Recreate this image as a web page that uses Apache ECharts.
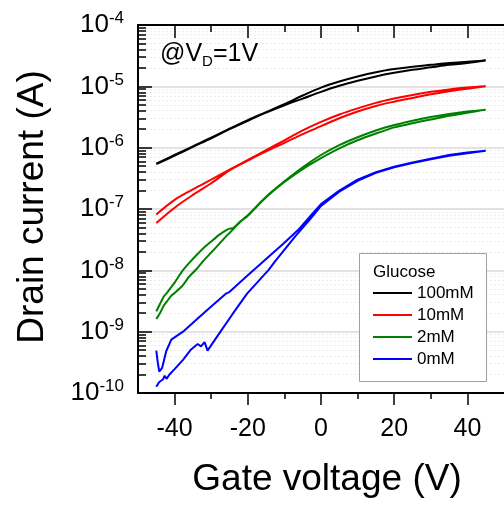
<!DOCTYPE html>
<html lang="en">
<head>
    <meta charset="UTF-8">
    <title>Drain current vs gate voltage</title>
    <script src="https://cdn.jsdelivr.net/npm/echarts@6/dist/echarts.min.js"></script>
    <style>
        html, body { margin: 0; padding: 0; background: #fff; }
        #main { width: 504px; height: 508px; }
    </style>
</head>
<body>
<div id="main"></div>
<script type="text/javascript">
    // gate voltage points (V): 5 V steps for the smooth sweeps, finer grid for 2 mM
    var vCoarse = [-45, -40, -35, -30, -25, -20, -15, -10, -5, 0, 5, 10, 15, 20, 25, 30, 35, 40, 45];
    var vGate = [-45, -44, -43, -42, -41, -40, -38, -36, -34, -32, -30, -28, -26, -25, -24, -22, -20,
                 -15, -10, -5, 0, 5, 10, 15, 20, 25, 30, 35, 40, 45];

    // drain current (A), two sweep branches per concentration
    var i100a = [5.50e-7, 7.59e-7, 1.05e-6, 1.45e-6, 2.04e-6, 2.82e-6, 3.80e-6, 5.13e-6, 7.08e-6, 9.55e-6,
                 1.20e-5, 1.45e-5, 1.70e-5, 1.91e-5, 2.09e-5, 2.24e-5, 2.40e-5, 2.51e-5, 2.63e-5];
    var i100b = [5.40e-7, 7.41e-7, 1.03e-6, 1.42e-6, 2.00e-6, 2.75e-6, 3.72e-6, 4.90e-6, 6.31e-6, 8.13e-6,
                 1.02e-5, 1.23e-5, 1.45e-5, 1.66e-5, 1.86e-5, 2.04e-5, 2.24e-5, 2.40e-5, 2.57e-5];

    var i10a = [8.13e-8, 1.41e-7, 2.09e-7, 3.02e-7, 4.37e-7, 6.31e-7, 9.12e-7, 1.32e-6, 1.91e-6, 2.63e-6,
                3.47e-6, 4.37e-6, 5.37e-6, 6.31e-6, 7.24e-6, 8.13e-6, 8.91e-6, 9.55e-6, 1.00e-5];
    var i10b = [5.89e-8, 1.05e-7, 1.70e-7, 2.63e-7, 4.27e-7, 6.17e-7, 8.71e-7, 1.20e-6, 1.66e-6, 2.24e-6,
                3.02e-6, 3.89e-6, 4.79e-6, 5.62e-6, 6.46e-6, 7.41e-6, 8.32e-6, 9.12e-6, 9.77e-6];

    var i2a = [2.14e-9, 2.82e-9, 3.72e-9, 4.37e-9, 5.25e-9, 6.31e-9, 9.55e-9, 1.32e-8, 1.78e-8, 2.34e-8,
               2.95e-8, 3.72e-8, 4.47e-8, 4.79e-8, 4.90e-8, 6.31e-8, 7.94e-8, 1.58e-7, 2.82e-7, 4.79e-7,
               7.59e-7, 1.10e-6, 1.48e-6, 1.91e-6, 2.34e-6, 2.75e-6, 3.16e-6, 3.55e-6, 3.89e-6, 4.17e-6];
    var i2b = [1.62e-9, 2.00e-9, 2.63e-9, 3.16e-9, 3.80e-9, 4.27e-9, 5.50e-9, 7.94e-9, 1.05e-8, 1.45e-8,
               1.95e-8, 2.63e-8, 3.55e-8, 4.07e-8, 4.68e-8, 6.17e-8, 7.76e-8, 1.55e-7, 2.75e-7, 4.47e-7,
               6.76e-7, 9.77e-7, 1.32e-6, 1.70e-6, 2.14e-6, 2.51e-6, 2.88e-6, 3.31e-6, 3.72e-6, 4.07e-6];

    // 0 mM is noisy at low current, so it keeps its own voltage points
    var vBlueA = [-45, -44.6, -44.2, -43.4, -42.3, -40.9, -37.7, -34, -30, -26, -25.2, -20, -16, -10, -6.2,
                  -3, 0, 5, 10, 15, 20, 25, 30, 35, 40, 45];
    var i0a = [4.90e-10, 3.16e-10, 2.24e-10, 2.57e-10, 4.79e-10, 7.41e-10, 1.00e-9, 1.58e-9, 2.57e-9, 4.17e-9,
               4.37e-9, 8.32e-9, 1.35e-8, 2.82e-8, 4.57e-8, 7.59e-8, 1.20e-7, 2.00e-7, 3.02e-7, 3.98e-7,
               4.90e-7, 5.75e-7, 6.61e-7, 7.59e-7, 8.32e-7, 8.91e-7];
    var vBlueB = [-45, -44.6, -44.2, -43.6, -43.2, -42.7, -42.2, -41.4, -40, -37.7, -35.5, -33.7, -32.8, -32.3,
                  -31.8, -31, -27, -24, -20.6, -20.2, -14.3, -12.5, -7.1, -3, 0, 5, 10, 15, 20, 25, 30, 35, 40, 45];
    var i0b = [1.26e-10, 1.58e-10, 1.51e-10, 1.74e-10, 1.66e-10, 1.91e-10, 1.70e-10, 2.00e-10, 2.45e-10, 3.47e-10,
               5.13e-10, 6.31e-10, 5.75e-10, 6.61e-10, 6.76e-10, 4.90e-10, 1.10e-9, 2.00e-9, 3.98e-9, 4.17e-9,
               1.02e-8, 1.41e-8, 3.55e-8, 6.76e-8, 1.12e-7, 1.91e-7, 2.88e-7, 3.89e-7, 4.79e-7, 5.62e-7,
               6.46e-7, 7.41e-7, 8.13e-7, 8.71e-7];

    var names = ['100mM', '10mM', '2mM', '0mM'];
    var colors = ['#000000', '#ff0000', '#008000', '#0000ff'];
    var smoothness = [0.35, 0.35, 0.2, 0];
    var xMajor = [-40, -20, 0, 20, 40];
    var xMinor = [-30, -10, 10, 30];
    var minorMantissa = [2, 3, 4, 5, 6, 7, 8, 9];

    var FONT = "'Liberation Sans', Arial, sans-serif";

    // one series = out along branch a, back along branch b
    function sweep(va, ia, vb, ib) {
        var out = [];
        for (var i = 0; i < va.length; i++) out.push([va[i], ia[i]]);
        for (var j = vb.length - 1; j >= 0; j--) out.push([vb[j], ib[j]]);
        return out;
    }

    // minor log ticks, placed on a helper axis that runs in exponent space
    var minorExp = [];
    for (var d = -10; d < -4; d++) {
        minorMantissa.forEach(function (m) { minorExp.push(d + Math.log10(m)); });
    }

    var loops = [
        sweep(vCoarse, i100a, vCoarse, i100b),
        sweep(vCoarse, i10a, vCoarse, i10b),
        sweep(vGate, i2a, vGate, i2b),
        sweep(vBlueA, i0a, vBlueB, i0b)
    ];

    var tickStyle = { color: '#000', width: 1.5 };
    var blackLine = { show: true, onZero: false, lineStyle: { color: '#000', width: 2 } };
    var noLine = { show: false, onZero: false };

    var myChart = echarts.init(document.getElementById('main'));

    var option = {
        animation: false,
        backgroundColor: '#fff',
        grid: { left: 138, top: 25, right: -4, bottom: 115 },
        xAxis: [
            {
                type: 'value', min: -50, max: 50, position: 'bottom',
                axisLine: blackLine,
                axisTick: { show: true, inside: false, length: 12, customValues: xMajor, lineStyle: tickStyle },
                axisLabel: { customValues: xMajor, fontSize: 25, color: '#000', fontFamily: FONT, margin: 24 },
                splitLine: { show: false }
            },
            {
                type: 'value', min: -50, max: 50, position: 'bottom',
                axisLine: noLine,
                axisTick: { show: true, inside: false, length: 6, customValues: xMinor, lineStyle: tickStyle },
                axisLabel: { show: false },
                splitLine: { show: false }
            },
            {
                type: 'value', min: -50, max: 50, position: 'top',
                axisLine: blackLine,
                axisTick: { show: true, inside: true, length: 13, customValues: xMajor, lineStyle: tickStyle },
                axisLabel: { show: false },
                splitLine: { show: false }
            },
            {
                type: 'value', min: -50, max: 50, position: 'top',
                axisLine: noLine,
                axisTick: { show: true, inside: true, length: 7, customValues: xMinor, lineStyle: tickStyle },
                axisLabel: { show: false },
                splitLine: { show: false }
            }
        ],
        yAxis: [
            {
                type: 'log', logBase: 10, min: 1e-10, max: 1e-4, splitNumber: 6, position: 'left',
                axisLine: blackLine,
                axisTick: { show: true, inside: true, length: 14, lineStyle: tickStyle },
                axisLabel: {
                    margin: 14,
                    formatter: function (v) {
                        return '{b|10}{s|' + Math.round(Math.log10(v)) + '}';
                    },
                    rich: {
                        b: { fontSize: 26, color: '#000', fontFamily: FONT },
                        s: { fontSize: 17, color: '#000', fontFamily: FONT, padding: [0, 0, 13, 0] }
                    }
                },
                splitLine: { show: true, lineStyle: { color: '#d9d9d9', width: 1.5 } }
            },
            {
                type: 'value', min: -10, max: -4, position: 'left',
                axisLine: noLine,
                axisTick: { show: true, inside: true, length: 8, customValues: minorExp, lineStyle: tickStyle },
                axisLabel: { show: false },
                splitLine: { show: true, lineStyle: { color: '#ececec', width: 1, type: [2, 2] } }
            }
        ],
        legend: {
            orient: 'vertical', left: 373, top: 284, padding: 0,
            itemWidth: 39, itemHeight: 2, itemGap: 4, icon: 'rect',
            selectedMode: false, z: 20,
            textStyle: { fontSize: 17, color: '#000', fontFamily: FONT, lineHeight: 18 },
            data: names
        },
        graphic: [
            {
                type: 'text', x: 33, y: 207, rotation: Math.PI / 2,
                style: {
                    text: 'Drain current (A)', fontSize: 37, fontFamily: FONT, fill: '#000',
                    textAlign: 'center', textVerticalAlign: 'middle', align: 'center', verticalAlign: 'middle'
                }
            },
            {
                type: 'text', x: 327, y: 480,
                style: {
                    text: 'Gate voltage (V)', fontSize: 37, fontFamily: FONT, fill: '#000',
                    textAlign: 'center', textVerticalAlign: 'middle', align: 'center', verticalAlign: 'middle'
                }
            },
            {
                type: 'text', x: 160, y: 54, z: 20,
                style: {
                    text: '{a|@V}{d|D}{a|=1V}', fill: '#000',
                    textVerticalAlign: 'middle', verticalAlign: 'middle',
                    rich: {
                        a: { fontSize: 25, fontFamily: FONT, fill: '#000' },
                        d: { fontSize: 15, fontFamily: FONT, fill: '#000', padding: [15, 0, 0, 0] }
                    }
                }
            },
            {
                type: 'rect', z: 10,
                shape: { x: 359.5, y: 253.5, width: 127, height: 128 },
                style: { fill: '#fff', stroke: '#a0a0a0', lineWidth: 1 }
            },
            {
                type: 'text', x: 373, y: 272, z: 11,
                style: {
                    text: 'Glucose', fontSize: 17, fontFamily: FONT, fill: '#000',
                    textVerticalAlign: 'middle', verticalAlign: 'middle'
                }
            }
        ],
        series: loops.map(function (pts, k) {
            return {
                name: names[k],
                type: 'line',
                xAxisIndex: 0,
                yAxisIndex: 0,
                data: pts,
                showSymbol: false,
                symbol: 'none',
                smooth: smoothness[k],
                color: colors[k],
                lineStyle: { color: colors[k], width: 2 },
                z: 2
            };
        })
    };

    myChart.setOption(option);
</script>
</body>
</html>
